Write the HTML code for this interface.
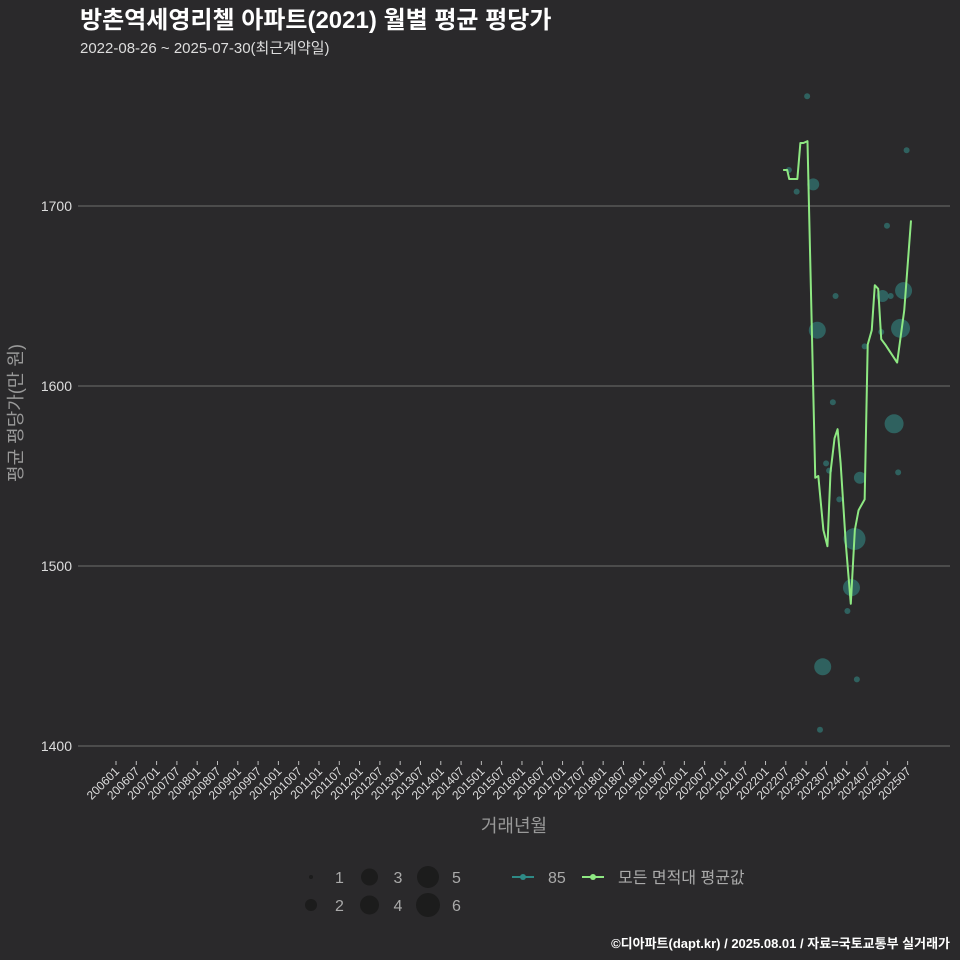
<!DOCTYPE html>
<html><head><meta charset="utf-8">
<style>
body{margin:0;background:#2a292b;}
svg{display:block;font-family:"Liberation Sans","Noto Sans CJK KR",sans-serif;}
</style></head>
<body>
<svg id="chart" width="960" height="960" viewBox="0 0 960 960" xmlns="http://www.w3.org/2000/svg">
<rect width="960" height="960" fill="#2a292b"/>
<text x="80" y="28" fill="#ffffff" font-size="24" font-weight="bold">방촌역세영리첼 아파트(2021) 월별 평균 평당가</text>
<text x="80" y="53" fill="#dddddd" font-size="15">2022-08-26 ~ 2025-07-30(최근계약일)</text>
<g id="grid"></g>
<g id="bubbles"></g>
<g id="line"></g>
<g id="xaxis"></g>
<text x="514" y="832" fill="#999999" font-size="18" text-anchor="middle">거래년월</text>
<text transform="translate(22,413) rotate(-90)" fill="#999999" font-size="18" text-anchor="middle">평균 평당가(만 원)</text>
<g id="legend"></g>
<text x="950" y="948" fill="#ffffff" font-size="13" font-weight="bold" text-anchor="end">©디아파트(dapt.kr) / 2025.08.01 / 자료=국토교통부 실거래가</text>
</svg>
<script>
// month index from 2006-01 (0 = 200601)
const lineMonths=[197.2,198.4,199.0,201.4,202.3,203.2,204.4,206.7,207.6,209.1,210.3,211.2,212.4,213.3,214.2,215.7,217.2,218.4,219.5,221.3,222.2,223.4,224.3,225.3,226.2,227.4,230.9,233.0,235.0];
const lineValues=[1720,1720,1715,1715,1735,1735,1736,1549,1550,1520,1511,1552,1571,1576,1557,1513,1479,1520,1531,1537,1623,1631,1656,1654,1626,1623,1613,1642,1692];
const bubbleMonths=[204.3,198.9,201.2,206.1,233.7,227.9,212.7,226.6,229.0,232.8,207.3,231.9,226.2,221.3,211.9,230.0,231.2,209.9,210.8,219.9,213.8,218.3,217.4,216.2,208.9,219.0,208.1];
const bubbleValues=[1761,1720,1708,1712,1731,1689,1650,1650,1650,1653,1631,1632,1630,1622,1591,1579,1552,1557,1553,1549,1537,1515,1488,1475,1444,1437,1409];
const bubbleCounts=[1,1,1,2,1,1,1,2,1,3,3,4,1,1,1,4,1,1,1,2,1,5,3,1,3,1,1];
const yTicks=[1400,1500,1600,1700];
const sizeLegend=[1,2,3,4,5,6];
const sizeRadius=[3,6,8.5,9.5,11,12];

const NS='http://www.w3.org/2000/svg';
function mk(tag,attrs,parent){const e=document.createElementNS(NS,tag);for(const k in attrs)e.setAttribute(k,attrs[k]);parent.appendChild(e);return e;}
const xS=m=>116+m*3.383;
const yS=v=>746-(v-1400)*1.8;
const rS=c=>sizeRadius[Math.max(0,Math.min(5,Math.round(c)-1))];

const grid=document.getElementById('grid');
yTicks.forEach(t=>{
  const l=mk('line',{x1:78,x2:950,y1:yS(t),y2:yS(t),stroke:'#6e6e6e',"stroke-width":1},grid);
  
  
  const tx=mk('text',{x:72,y:yS(t)+5,fill:'#dddddd',"font-size":14,"text-anchor":"end"},grid);
  tx.textContent=t;
  
  
});

const xa=document.getElementById('xaxis');
for(let i=0;i<40;i++){
  const m=i*6;const x=xS(m);
  const yr=2006+Math.floor(m/12);const mo=(m%12)+1;
  const lab=''+yr+(mo<10?'0':'')+mo;
  const tk=mk('line',{x1:x,x2:x,y1:761,y2:765,stroke:'#bbb'},xa);
  
  
  const tx=mk('text',{transform:`translate(${x+4},${772}) rotate(-45)`,fill:'#dddddd',"font-size":12,"text-anchor":"end"},xa);
  tx.textContent=lab;
  
  
}

const bg=document.getElementById('bubbles');
bubbleMonths.forEach((m,i)=>{
  const c=mk('circle',{cx:xS(m),cy:yS(bubbleValues[i]),r:rS(bubbleCounts[i]),fill:'#327472',"fill-opacity":0.75},bg);
  
  
});

const lg=document.getElementById('line');
const p=mk('polyline',{points:lineMonths.map((m,i)=>xS(m)+','+yS(lineValues[i])).join(' '),fill:'none',stroke:'#8ee882',"stroke-width":2,"stroke-linejoin":"round"},lg);



const leg=document.getElementById('legend');
sizeLegend.forEach((s,i)=>{
  const col=Math.floor(i/2),row=i%2;
  const cx=311+col*58.5,cy=877+row*28;
  const c=mk('circle',{cx:cx,cy:cy,r:i===0?2:sizeRadius[i],fill:'#1c1c1c'},leg);
  
  
  const t=mk('text',{x:cx+24,y:cy+6,fill:'#aaaaaa',"font-size":16},leg);
  t.textContent=s;
  
  
});
[['#2e8a86','85',512],['#8ee882','모든 면적대 평균값',582]].forEach(([col,lab,x])=>{
  const l=mk('line',{x1:x,x2:x+22,y1:877,y2:877,stroke:col,"stroke-width":2},leg);
  
  
  const c=mk('circle',{cx:x+11,cy:877,r:3,fill:col},leg);
  
  
  const t=mk('text',{x:x+36,y:883,fill:'#aaaaaa',"font-size":16},leg);
  t.textContent=lab;
  
  
});
</script>
</body></html>
